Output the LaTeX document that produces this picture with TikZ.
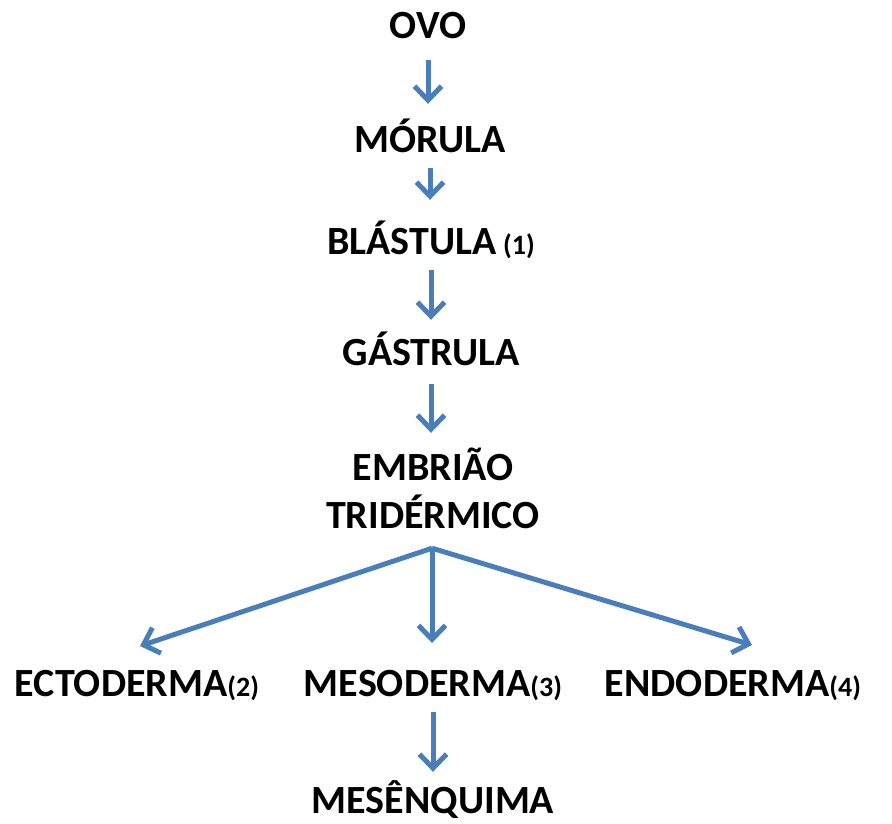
\documentclass[tikz,border=0pt]{standalone}
\usepackage{fontspec}
\setmainfont{Carlito}
\usetikzlibrary{arrows.meta}
\definecolor{arrblue}{RGB}{74,126,187}
\begin{document}
\begin{tikzpicture}[x=1pt,y=-1pt,
  lbl/.style={font=\bfseries\fontsize{40}{48}\selectfont, inner sep=0pt, anchor=base, text height=26pt, text depth=0pt},
  arr/.style={draw=arrblue, line width=5pt, -{Straight Barb[length=14pt,width=27pt,line width=5pt]}}]
\path[use as bounding box] (0,0) rectangle (892,823);
\node[lbl] (ovo) at (428,38) {OVO};
\node[lbl] (mor) at (430,152) {MÓRULA};
\node[lbl] (bla) at (431,254) {BLÁSTULA\,{\fontsize{28}{32}\selectfont(1)}};
\node[lbl] (gas) at (431,365) {GÁSTRULA};
\node[lbl, align=center, text height=74pt] (emb) at (433,528) {EMBRIÃO\\TRIDÉRMICO};
\node[lbl] (ect) at (137,696) {ECTODERMA{\fontsize{28}{32}\selectfont(2)}};
\node[lbl] (mes) at (433,696) {MESODERMA{\fontsize{28}{32}\selectfont(3)}};
\node[lbl] (end) at (733,696) {ENDODERMA{\fontsize{28}{32}\selectfont(4)}};
\node[lbl] (mq) at (433,813) {MESÊNQUIMA};
\draw[arr, shorten <=22pt, shorten >=22pt] (ovo.south) -- (ovo.south |- mor.north);
\draw[arr, shorten <=16pt, shorten >=28pt] (mor.south) -- (mor.south |- bla.north);
\draw[arr, shorten <=16pt, shorten >=19pt] (bla.south) -- (bla.south |- gas.north);
\draw[arr, shorten <=19pt, shorten >=21pt] (gas.south) -- (gas.south |- emb.north);
\path (emb.south) ++(-1,20) coordinate (br);
\draw[arr] (br) -- (140,646);
\draw[arr] (br) -- (432,643);
\draw[arr] (br) -- (752,645);
\draw[arr, shorten <=16pt, shorten >=15pt] (mes.south) -- (mes.south |- mq.north);
\end{tikzpicture}
\end{document}
